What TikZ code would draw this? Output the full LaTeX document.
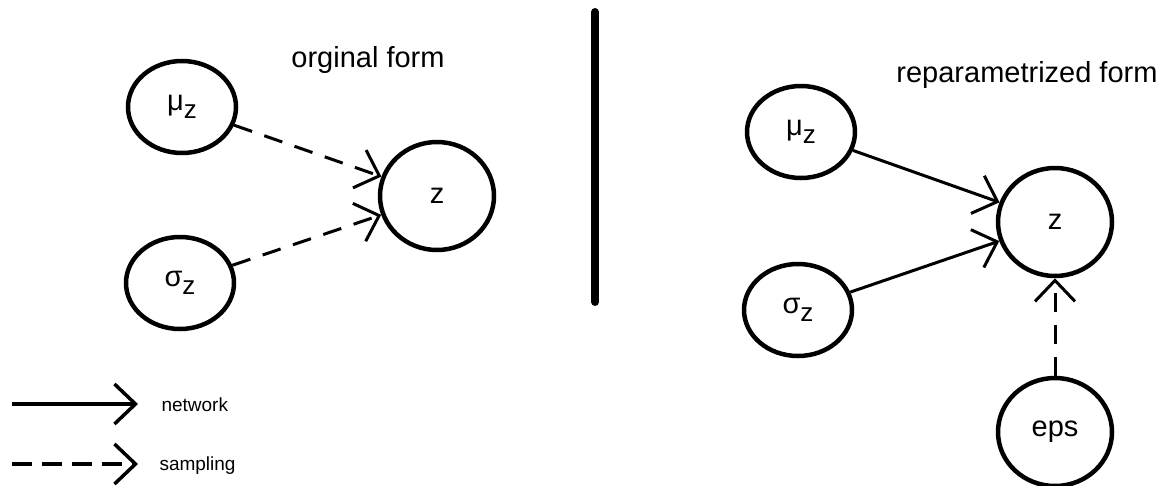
\documentclass[tikz,border=0pt]{standalone}
\usepackage{fontspec}
\setmainfont{Liberation Sans}
\usetikzlibrary{shapes.geometric,arrows.meta}

\newcommand{\subz}{\raisebox{-8pt}{\fontsize{26}{28}\selectfont z}}

\begin{document}
\begin{tikzpicture}[x=1pt, y=-1pt,
    var/.style={ellipse, draw, line width=4.5pt, inner sep=0pt,
        minimum width=108pt, minimum height=92pt, font=\fontsize{29}{32}\selectfont},
    bigvar/.style={var, minimum width=114pt, minimum height=108pt},
    net/.style={line width=3pt, -{Straight Barb[length=21pt, width=40pt]}},
    samp/.style={net, dash pattern=on 19pt off 13pt},
    title/.style={font=\fontsize{29}{32}\selectfont},
    small/.style={font=\fontsize{19}{22}\selectfont, anchor=west}]
    \useasboundingbox (0,0) rectangle (1170,485);

    % original form
    \node[title] (tleft) at (368,60) {orginal form};
    \node[var] (muL) at (182,107) {μ\subz};
    \node[var] (sigL) at (180,283) {σ\subz};
    \node[bigvar] (zL) at (437,196) {z};
    \draw[samp] (muL) -- (zL);
    \draw[samp] (sigL) -- (zL);

    % separator
    \coordinate (barT) at (595,12);
    \coordinate (barB) at (595,302);
    \draw[line width=8pt, line cap=round] (barT) -- (barB);

    % reparametrized form
    \node[title] (tright) at (1027,75) {reparametrized form};
    \node[var] (muR) at (801,132) {μ\subz};
    \node[var] (sigR) at (798,310) {σ\subz};
    \node[bigvar] (zR) at (1055,222) {z};
    \node[bigvar] (eps) at (1055,432) {eps};
    \draw[net] (muR) -- (zR);
    \draw[net] (sigR) -- (zR);
    \draw[samp] (eps) -- (zR);

    % legend
    \coordinate (netA) at (12,404);
    \coordinate (netB) at (138,404);
    \coordinate (sampA) at (12,464);
    \coordinate (sampB) at (138,464);
    \draw[net, line width=3.5pt] (netA) -- (netB);
    \draw[samp, line width=3.5pt, dash pattern=on 20pt off 10pt] (sampA) -- (sampB);
    \node[small] (lnet) at (158,405) {network};
    \node[small] (lsamp) at (156,466) {sampling};
\end{tikzpicture}
\end{document}
